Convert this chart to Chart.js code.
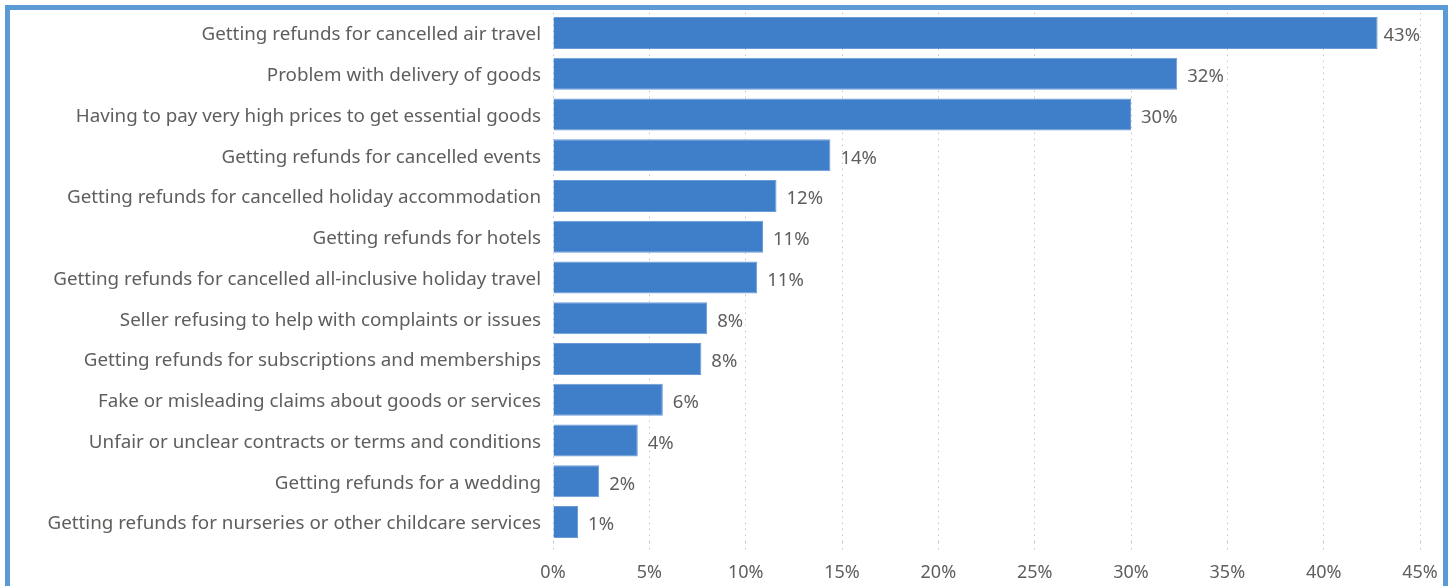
<!DOCTYPE html>
<html>
<head>
<meta charset="utf-8">
<script src="https://cdn.jsdelivr.net/npm/chart.js@4"></script>
<style>
  html, body { margin: 0; padding: 0; background: #fff; }
  #frame {
    position: absolute; left: 5px; top: 5px;
    width: 1443px; height: 640px;
    box-sizing: border-box;
    border: 5px solid #5b9bd5;
    background: #fff;
  }
  #chart { position: absolute; left: 0; top: 0; }
</style>
</head>
<body>
<div id="frame"></div>
<canvas id="chart" width="1452" height="586"></canvas>
<script>
const categories = [
  "Getting refunds for cancelled air travel",
  "Problem with delivery of goods",
  "Having to pay very high prices to get essential goods",
  "Getting refunds for cancelled events",
  "Getting refunds for cancelled holiday accommodation",
  "Getting refunds for hotels",
  "Getting refunds for cancelled all-inclusive holiday travel",
  "Seller refusing to help with complaints or issues",
  "Getting refunds for subscriptions and memberships",
  "Fake or misleading claims about goods or services",
  "Unfair or unclear contracts or terms and conditions",
  "Getting refunds for a wedding",
  "Getting refunds for nurseries or other childcare services"
];

// share of people reporting each problem, in percent
const shares = [42.8, 32.4, 30.0, 14.4, 11.6, 10.9, 10.6, 8.0, 7.7, 5.7, 4.4, 2.4, 1.3];

const xTicks = [0, 5, 10, 15, 20, 25, 30, 35, 40, 45];

const textColor = "#605e5c";
const fontFamily = "'Noto Sans', 'Open Sans', sans-serif";

// writes the rounded value past the end of each bar, kept inside the plot
const valueLabels = {
  id: "valueLabels",
  afterDatasetsDraw(chart) {
    const ctx = chart.ctx;
    const meta = chart.getDatasetMeta(0);
    const right = chart.chartArea.right;
    ctx.save();
    ctx.font = "18.5px " + fontFamily;
    ctx.fillStyle = textColor;
    ctx.textAlign = "left";
    ctx.textBaseline = "middle";
    meta.data.forEach((bar, i) => {
      const text = Math.round(chart.data.datasets[0].data[i]) + "%";
      const w = ctx.measureText(text).width;
      const x = Math.min(bar.x + 10, right - w);
      ctx.fillText(text, x, bar.y + 3);
    });
    ctx.restore();
  }
};

new Chart(document.getElementById("chart"), {
  type: "bar",
  data: {
    labels: categories,
    datasets: [{
      data: shares,
      backgroundColor: "#3f7fca",
      borderColor: "#6b9ad6",
      borderWidth: 1,
      barPercentage: 0.79,
      categoryPercentage: 1
    }]
  },
  options: {
    indexAxis: "y",
    responsive: false,
    animation: false,
    layout: { padding: { top: 12.6, right: 32, bottom: 0, left: 0 } },
    plugins: {
      legend: { display: false },
      tooltip: { enabled: false }
    },
    scales: {
      x: {
        min: 0,
        max: 45,
        afterBuildTicks(scale) {
          scale.ticks = xTicks.map(v => ({ value: v }));
        },
        afterFit(scale) { scale.height = 43.6; },
        border: { display: false, dash: [1.5, 4.5] },
        grid: {
          color: "#c4c4c4",
          lineWidth: 1,
          drawTicks: true,
          tickLength: 8,
          tickColor: "#c4c4c4",
          tickBorderDash: [1.5, 4.5]
        },
        ticks: {
          padding: 12,
          color: textColor,
          font: { family: fontFamily, size: 18 },
          callback: v => v + "%"
        }
      },
      y: {
        afterFit(scale) {
          scale.width = 553;
          scale.paddingTop = 0;
          scale.paddingBottom = 0;
        },
        border: { display: false },
        grid: { display: false, drawTicks: false },
        ticks: {
          padding: 12,
          labelOffset: 2,
          color: textColor,
          font: { family: fontFamily, size: 18.8 }
        }
      }
    }
  },
  plugins: [valueLabels]
});
</script>
</body>
</html>
